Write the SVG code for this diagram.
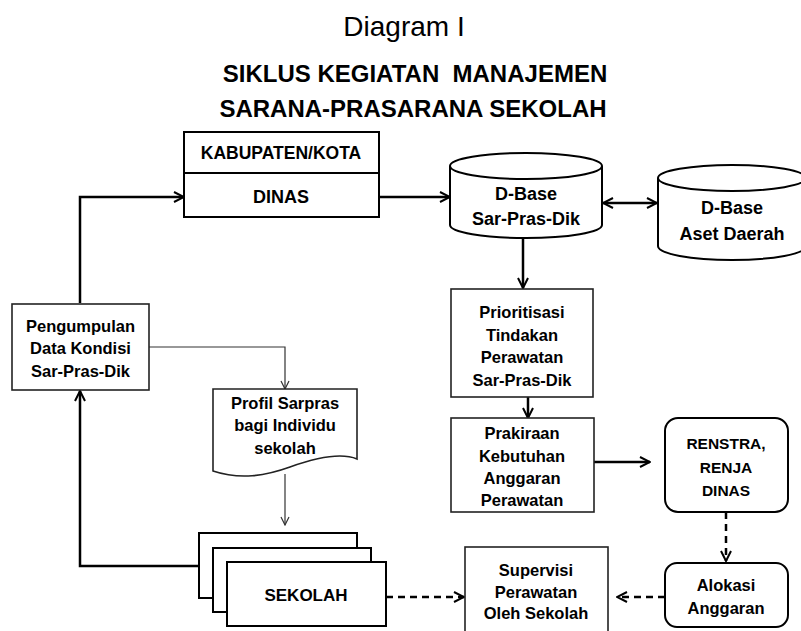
<svg xmlns="http://www.w3.org/2000/svg" width="801" height="631" viewBox="0 0 801 631">
<style>
.box{fill:#fff;stroke:#000;stroke-width:2}
.thinbox{fill:#fff;stroke:#222;stroke-width:1.6}
.t{font-family:"Liberation Sans",Arial,sans-serif;font-weight:bold;font-size:16.5px;text-anchor:middle;fill:#000}
.c{fill:none;stroke:#000;stroke-width:2.5}
.thin{fill:none;stroke:#333;stroke-width:1.2}
.dash{fill:none;stroke:#000;stroke-width:2.5;stroke-dasharray:7 5}
</style>
<defs>
<marker id="ah" viewBox="0 0 12 12" refX="11" refY="6" markerWidth="12" markerHeight="12" markerUnits="userSpaceOnUse" orient="auto-start-reverse">
<path d="M1,1 L11,6 L1,11" fill="none" stroke="#000" stroke-width="2"/>
</marker>
<marker id="ahs" viewBox="0 0 10 10" refX="9" refY="5" markerWidth="10" markerHeight="10" markerUnits="userSpaceOnUse" orient="auto">
<path d="M1,1 L9,5 L1,9" fill="none" stroke="#333" stroke-width="1.2"/>
</marker>
</defs>
<rect width="801" height="631" fill="#fff"/>
<g id="title">
<text x="404" y="36" font-family="Liberation Sans,Arial,sans-serif" font-size="28" text-anchor="middle">Diagram I</text>
<text x="415" y="82" class="t" style="font-size:24px;white-space:pre" xml:space="preserve">SIKLUS KEGIATAN  MANAJEMEN</text>
<text x="413" y="117" class="t" style="font-size:24px">SARANA-PRASARANA SEKOLAH</text>
</g>
<g id="connectors">
<polyline class="c" points="80,303 80,197 184,197" marker-end="url(#ah)"/>
<line class="c" x1="379" y1="197" x2="450" y2="197" marker-end="url(#ah)"/>
<line class="c" x1="523" y1="238" x2="523" y2="288" marker-end="url(#ah)"/>
<line class="c" x1="603" y1="203" x2="657" y2="203" marker-start="url(#ah)" marker-end="url(#ah)"/>
<line class="c" x1="528" y1="397" x2="528" y2="418" marker-end="url(#ah)"/>
<line class="c" x1="594" y1="462" x2="650" y2="462" marker-end="url(#ah)"/>
<line class="dash" x1="726" y1="512" x2="726" y2="561" marker-end="url(#ah)"/>
<line class="dash" x1="665" y1="597" x2="617" y2="597" marker-end="url(#ah)"/>
<line class="dash" x1="386" y1="597" x2="464" y2="597" marker-end="url(#ah)"/>
<polyline class="thin" points="149,347 285,347 285,389" marker-end="url(#ahs)"/>
<line class="thin" x1="285" y1="474" x2="285" y2="525" marker-end="url(#ahs)"/>
<polyline class="c" points="199,566 80,566 80,391" marker-end="url(#ah)"/>
</g>
<g id="kabupaten">
<rect class="box" x="184" y="132" width="195" height="85"/>
<line x1="184" y1="173" x2="379" y2="173" stroke="#000" stroke-width="2"/>
<text x="281" y="159" class="t" style="font-size:17.5px">KABUPATEN/KOTA</text>
<text x="281" y="203" class="t" style="font-size:18px">DINAS</text>
</g>
<g id="dbase-sarpras">
<path class="box" d="M450,166 V225 A76,13 0 0 0 602,225 V166"/>
<ellipse class="box" cx="526" cy="166" rx="76" ry="13"/>
<text x="526" y="199.5" class="t" style="font-size:18px">D-Base</text>
<text x="526" y="224.5" class="t" style="font-size:18px">Sar-Pras-Dik</text>
</g>
<g id="dbase-aset">
<path class="box" d="M658,178 V246 A74,14 0 0 0 806,246 V178"/>
<ellipse class="box" cx="732" cy="178" rx="74" ry="13"/>
<text x="732" y="213.5" class="t" style="font-size:18px">D-Base</text>
<text x="732" y="239.5" class="t" style="font-size:18px">Aset Daerah</text>
</g>
<g id="pengumpulan">
<rect class="thinbox" x="12" y="304" width="137" height="86"/>
<text x="80.5" y="332" class="t">Pengumpulan</text>
<text x="80.5" y="354" class="t">Data Kondisi</text>
<text x="80.5" y="377" class="t">Sar-Pras-Dik</text>
</g>
<g id="prioritisasi">
<rect class="thinbox" x="451" y="289" width="142" height="108"/>
<text x="522" y="318" class="t">Prioritisasi</text>
<text x="522" y="341" class="t">Tindakan</text>
<text x="522" y="363" class="t">Perawatan</text>
<text x="522" y="386" class="t">Sar-Pras-Dik</text>
</g>
<g id="prakiraan">
<rect class="thinbox" x="451" y="418" width="143" height="94"/>
<text x="522" y="439" class="t">Prakiraan</text>
<text x="522" y="462" class="t">Kebutuhan</text>
<text x="522" y="484" class="t">Anggaran</text>
<text x="522" y="506" class="t">Perawatan</text>
</g>
<g id="renstra">
<rect class="box" x="665" y="418" width="123" height="94" rx="13"/>
<text x="726" y="449" class="t" style="font-size:15.5px">RENSTRA,</text>
<text x="726" y="473" class="t" style="font-size:15.5px">RENJA</text>
<text x="726" y="496" class="t" style="font-size:15.5px">DINAS</text>
</g>
<g id="alokasi">
<rect class="box" x="665" y="563" width="123" height="64" rx="12"/>
<text x="726" y="591" class="t">Alokasi</text>
<text x="726" y="614" class="t">Anggaran</text>
</g>
<g id="supervisi">
<rect class="thinbox" x="465" y="547" width="143" height="100"/>
<text x="536" y="576" class="t">Supervisi</text>
<text x="536" y="598" class="t">Perawatan</text>
<text x="536" y="619" class="t">Oleh Sekolah</text>
</g>
<g id="profil">
<path class="thinbox" d="M213,389 H357 V459 C340,452 315,458 290,467 C265,476 240,480 213,471 Z"/>
<text x="285" y="409" class="t">Profil Sarpras</text>
<text x="285" y="431" class="t">bagi Individu</text>
<text x="285" y="454" class="t">sekolah</text>
</g>
<g id="sekolah">
<rect class="box" x="199" y="533" width="158" height="65"/>
<rect class="box" x="213" y="548" width="158" height="64"/>
<rect class="box" x="227" y="562" width="159" height="64"/>
<text x="306" y="601" class="t" style="font-size:17px">SEKOLAH</text>
</g>
</svg>
